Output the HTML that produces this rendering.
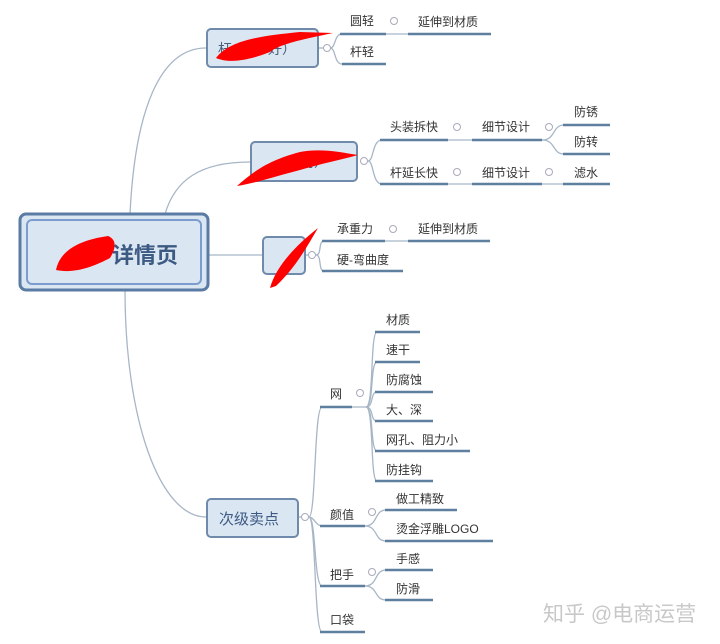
<!DOCTYPE html>
<html><head><meta charset="utf-8"><style>
html,body{margin:0;padding:0;background:#fff;}
svg{display:block;}
text{font-family:"Liberation Sans","Noto Sans CJK SC",sans-serif;fill:#333;font-size:12px;}
</style></head><body>
<svg width="720" height="644" viewBox="0 0 720 644" xmlns="http://www.w3.org/2000/svg">
<g fill="none" stroke="#a7b6c6" stroke-width="1.3">
<path d="M130,214 C135,110 160,48 206,48"/>
<path d="M165,214 C175,180 200,162 250,162"/>
<path d="M208,255 L262,255"/>
<path d="M125,290 C125,420 160,517 206,517"/>
<path d="M318,48 L324,48"/>
<path d="M330,48 C336,48 334,34 342,34"/>
<path d="M330,48 C336,48 334,64 342,64"/>
<path d="M386,34 L408,34"/>
<path d="M368,161 C374,161 372,140 382,140"/>
<path d="M368,161 C374,161 372,184 382,184"/>
<path d="M448,140 L472,140"/><path d="M448,184 L472,184"/>
<path d="M542,140 C556,140 552,125 564,125"/>
<path d="M542,140 C556,140 552,154 564,154"/>
<path d="M542,184 L564,184"/>
<path d="M305,255 L309,255"/>
<path d="M316,255 C322,255 318,241 324,241"/>
<path d="M316,255 C322,255 318,271 324,271"/>
<path d="M385,241 L408,241"/>
<path d="M298,517 L302,517"/>
<path d="M309,517 C316,517 314,407 322,407"/>
<path d="M309,517 C314,517 316,526 322,526"/>
<path d="M309,517 C316,517 314,586 322,586"/>
<path d="M309,517 C316,517 314,632 322,632"/>
<path d="M352,407 L366,407"/>
<path d="M366,407 C374,407 370,332 377,332"/>
<path d="M366,407 C374,407 370,362 377,362"/>
<path d="M366,407 C374,407 370,392 377,392"/>
<path d="M366,407 C374,407 370,421 377,421"/>
<path d="M366,407 C374,407 370,451 377,451"/>
<path d="M366,407 C374,407 370,481 377,481"/>
<path d="M365,526 C378,526 374,510 386,510"/>
<path d="M365,526 C378,526 374,541 386,541"/>
<path d="M365,586 C378,586 374,570 386,570"/>
<path d="M365,586 C378,586 374,600 386,600"/>
</g>
<g fill="#fff" stroke="#aab" stroke-width="1">
<circle cx="327" cy="48" r="3.5"/><circle cx="394" cy="21" r="3.5"/>
<circle cx="364" cy="161" r="3.5"/><circle cx="457" cy="127" r="3.5"/><circle cx="549" cy="127" r="3.5"/>
<circle cx="457" cy="172" r="3.5"/><circle cx="549" cy="172" r="3.5"/>
<circle cx="312" cy="255" r="3.5"/><circle cx="393" cy="229" r="3.5"/>
<circle cx="305" cy="517" r="3.5"/><circle cx="360" cy="393" r="3.5"/>
<circle cx="372" cy="512" r="3.5"/><circle cx="372" cy="572" r="3.5"/>
</g>
<g stroke="#5f7f9f" stroke-width="2.5">
<line x1="340" y1="34" x2="386" y2="34"/><line x1="408" y1="34" x2="491" y2="34"/>
<line x1="342" y1="64" x2="386" y2="64"/>
<line x1="380" y1="140" x2="448" y2="140"/><line x1="472" y1="140" x2="542" y2="140"/>
<line x1="563" y1="125" x2="610" y2="125"/><line x1="563" y1="154" x2="610" y2="154"/>
<line x1="380" y1="184" x2="448" y2="184"/><line x1="472" y1="184" x2="542" y2="184"/>
<line x1="563" y1="184" x2="610" y2="184"/>
<line x1="322" y1="241" x2="385" y2="241"/><line x1="408" y1="241" x2="490" y2="241"/>
<line x1="322" y1="271" x2="403" y2="271"/>
<line x1="320" y1="407" x2="352" y2="407"/>
<line x1="375" y1="332" x2="420" y2="332"/><line x1="375" y1="362" x2="420" y2="362"/>
<line x1="375" y1="392" x2="433" y2="392"/><line x1="375" y1="421" x2="433" y2="421"/>
<line x1="375" y1="451" x2="470" y2="451"/><line x1="375" y1="481" x2="433" y2="481"/>
<line x1="320" y1="526" x2="365" y2="526"/><line x1="385" y1="510" x2="457" y2="510"/>
<line x1="385" y1="541" x2="493" y2="541"/>
<line x1="320" y1="586" x2="365" y2="586"/><line x1="385" y1="570" x2="433" y2="570"/>
<line x1="385" y1="600" x2="433" y2="600"/>
<line x1="320" y1="632" x2="365" y2="632"/>
</g>
<rect x="20" y="214" width="188" height="76" rx="6" fill="#dbe6f3" stroke="#5a7ba3" stroke-width="3"/>
<rect x="27" y="220" width="174" height="64" rx="5" fill="#dbe6f3" stroke="#7b9ccc" stroke-width="2"/>
<rect x="207" y="29" width="111" height="38" rx="4" fill="#dbe6f3" stroke="#6f8aab" stroke-width="2"/>
<rect x="251" y="142" width="106" height="39" rx="4" fill="#dbe6f3" stroke="#6f8aab" stroke-width="2"/>
<rect x="263" y="237" width="42" height="37" rx="4" fill="#dbe6f3" stroke="#6f8aab" stroke-width="2"/>
<rect x="207" y="499" width="91" height="38" rx="4" fill="#dbe6f3" stroke="#6f8aab" stroke-width="2"/>
<text x="112" y="263" style="font-size:22px;fill:#3c5a82;font-weight:bold">详情页</text>
<text x="218" y="54" style="font-size:14px;fill:#4a5f7a">杆</text>
<text x="268" y="54" style="font-size:14px;fill:#4a5f7a">好）</text>
<text x="300" y="167" style="font-size:14px;fill:#4a5f7a">用）</text>
<text x="219" y="524" style="font-size:15px;fill:#3c5a82">次级卖点</text>
<g fill="#f00">
<path d="M216,58 C230,40 260,36 300,32 L333,33 C300,40 280,44 270,52 C250,60 230,64 216,58 Z"/>
<path d="M237,186 C255,170 270,160 300,152 C320,148 340,152 358,155 C340,160 320,164 300,170 C280,175 260,182 237,186 Z"/>
<path d="M270,288 C275,270 290,250 318,228 C305,250 295,268 276,286 Z"/>
<path d="M56,270 C60,250 80,240 108,236 C118,240 115,250 110,258 C95,266 75,274 56,270 Z"/>
</g>
<text x="350" y="25">圆轻</text><text x="418" y="26">延伸到材质</text>
<text x="350" y="56">杆轻</text>
<text x="390" y="131">头装拆快</text><text x="482" y="131">细节设计</text>
<text x="574" y="116">防锈</text><text x="574" y="146">防转</text>
<text x="390" y="177">杆延长快</text><text x="482" y="177">细节设计</text><text x="574" y="177">滤水</text>
<text x="337" y="233">承重力</text><text x="418" y="233">延伸到材质</text>
<text x="337" y="264">硬-弯曲度</text>
<text x="330" y="398">网</text>
<text x="386" y="324">材质</text><text x="386" y="354">速干</text>
<text x="386" y="384">防腐蚀</text><text x="386" y="414">大、深</text>
<text x="386" y="444">网孔、阻力小</text><text x="386" y="474">防挂钩</text>
<text x="330" y="519">颜值</text><text x="396" y="503">做工精致</text>
<text x="396" y="533">烫金浮雕LOGO</text>
<text x="330" y="579">把手</text><text x="396" y="563">手感</text><text x="396" y="593">防滑</text>
<text x="330" y="624">口袋</text>
<text x="543" y="621" style="font-size:21px;fill:#c8c8c8">知乎 @电商运营</text>
</svg>
</body></html>
